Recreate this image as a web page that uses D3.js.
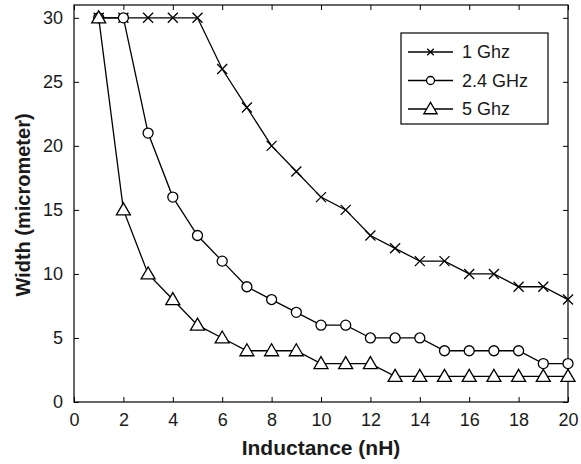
<!DOCTYPE html>
<html>
<head>
<meta charset="utf-8">
<script src="https://cdn.jsdelivr.net/npm/d3@7.9.0/dist/d3.min.js"></script>
<style>
  body { margin: 0; background: #fff; }
  svg { font-family: "Liberation Sans", Arial, sans-serif; }
</style>
</head>
<body>
<svg id="chart" width="581" height="464"></svg>
<script>
const inductance = d3.range(1, 21);
const width1 = [30, 30, 30, 30, 30, 26, 23, 20, 18, 16, 15, 13, 12, 11, 11, 10, 10, 9, 9, 8];
const width24 = [30, 30, 21, 16, 13, 11, 9, 8, 7, 6, 6, 5, 5, 5, 4, 4, 4, 4, 3, 3];
const width5 = [30, 15, 10, 8, 6, 5, 4, 4, 4, 3, 3, 3, 2, 2, 2, 2, 2, 2, 2, 2];
const seriesNames = ['1 Ghz', '2.4 GHz', '5 Ghz'];
const xTicks = d3.range(0, 21, 2);
const yTicks = d3.range(0, 31, 5);

const svg = d3.select('#chart');
const margin = { left: 74, right: 13, top: 5, bottom: 62 };
const W = 581, H = 464;

let x = d3.scaleLinear().domain([0, 20]).range([margin.left, W - margin.right]);
let y = d3.scaleLinear().domain([0, 31]).range([H - margin.bottom, margin.top]);

// frame
svg.append('rect')
  .attr('x', x(0)).attr('y', y(31))
  .attr('width', x(20) - x(0)).attr('height', y(0) - y(31))
  .attr('fill', 'none').attr('stroke', '#000').attr('stroke-width', 1.2);

// inward ticks on all four sides
const tickLen = 5;
function tickAxis(gen, tx, ty, tickVals, pad) {
  const g = svg.append('g')
    .attr('transform', `translate(${tx},${ty})`)
    .call(gen.tickValues(tickVals).tickSizeInner(-tickLen).tickSizeOuter(0).tickPadding(pad));
  g.select('.domain').remove();
  g.selectAll('line').attr('stroke', '#000').attr('stroke-width', 1);
  g.selectAll('text').attr('font-size', 18).attr('fill', '#1a1a1a');
  return g;
}
tickAxis(d3.axisBottom(x), 0, y(0), xTicks, 11);
tickAxis(d3.axisLeft(y), x(0), 0, yTicks, 11);
tickAxis(d3.axisTop(x), 0, y(31), xTicks, 0).selectAll('text').remove();
tickAxis(d3.axisRight(y), x(20), 0, yTicks, 0).selectAll('text').remove();

// axis titles
svg.append('text')
  .attr('x', (x(0) + x(20)) / 2).attr('y', 455)
  .attr('text-anchor', 'middle')
  .attr('font-size', 21).attr('font-weight', 'bold').attr('fill', '#1a1a1a')
  .text('Inductance (nH)');
svg.append('text')
  .attr('transform', `translate(30,205) rotate(-90)`)
  .attr('text-anchor', 'middle')
  .attr('font-size', 20).attr('font-weight', 'bold').attr('fill', '#1a1a1a')
  .text('Width (micrometer)');

const line = d3.line().x((d) => x(d[0])).y((d) => y(d[1]));

function drawMarker(g, type, cx, cy, k) {
  if (type === 'x') {
    const s = 5 * k;
    g.append('path')
      .attr('d', `M${cx - s},${cy - s}L${cx + s},${cy + s}M${cx - s},${cy + s}L${cx + s},${cy - s}`)
      .attr('stroke', '#000').attr('stroke-width', 1.3);
  } else if (type === 'o') {
    g.append('circle')
      .attr('cx', cx).attr('cy', cy).attr('r', 5 * k)
      .attr('fill', '#fff').attr('stroke', '#000').attr('stroke-width', 1.3);
  } else {
    g.append('path')
      .attr('d', `M${cx},${cy - 7 * k}L${cx + 7 * k},${cy + 5 * k}L${cx - 7 * k},${cy + 5 * k}Z`)
      .attr('fill', '#fff').attr('stroke', '#000').attr('stroke-width', 1.3);
  }
}

const series = [
  { values: width1, marker: 'x', legendScale: 0.65 },
  { values: width24, marker: 'o', legendScale: 0.8 },
  { values: width5, marker: 't', legendScale: 0.95 },
];

series.forEach((s) => {
  const pts = inductance.map((v, i) => [v, s.values[i]]);
  const g = svg.append('g');
  g.append('path')
    .attr('d', line(pts))
    .attr('fill', 'none').attr('stroke', '#000').attr('stroke-width', 1.3);
  pts.forEach((p) => drawMarker(g, s.marker, x(p[0]), y(p[1]), 1));
});

// legend
const lg = svg.append('g');
lg.append('rect')
  .attr('x', 401).attr('y', 33).attr('width', 147).attr('height', 91)
  .attr('fill', '#fff').attr('stroke', '#000').attr('stroke-width', 1.2);
seriesNames.forEach((name, i) => {
  const cy = 52 + i * 28.5;
  lg.append('line')
    .attr('x1', 408).attr('x2', 453).attr('y1', cy).attr('y2', cy)
    .attr('stroke', '#000').attr('stroke-width', 1.3);
  drawMarker(lg, series[i].marker, 430.5, cy, series[i].legendScale);
  lg.append('text')
    .attr('x', 462).attr('y', cy + 6.3)
    .attr('font-size', 18).attr('fill', '#1a1a1a')
    .text(name);
});
</script>
</body>
</html>
